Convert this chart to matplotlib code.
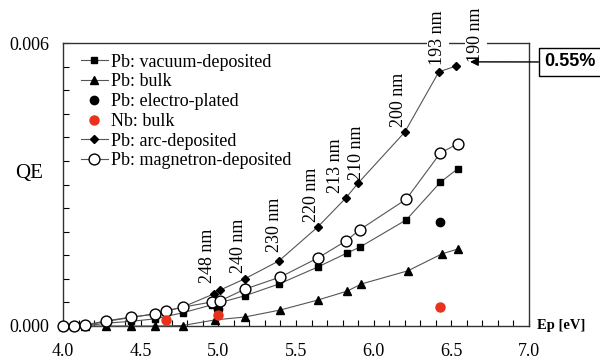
import matplotlib
matplotlib.use("Agg")
import matplotlib.pyplot as plt
from matplotlib.ticker import MultipleLocator

plt.rcParams['font.family'] = ['Liberation Serif', 'DejaVu Serif']

# Photon energy (eV) and quantum efficiency for each cathode type
ep_vacuum = [4.00, 4.07, 4.14, 4.28, 4.44, 4.59, 4.77, 4.96, 5.17, 5.39, 5.64, 5.83, 5.91, 6.21, 6.43, 6.54]
qe_vacuum = [0.0, 0.0, 0.0, 0.00006, 0.00010, 0.00015, 0.00028, 0.00045, 0.00064, 0.00089, 0.00125, 0.00155, 0.00167, 0.00225, 0.00305, 0.00333]

ep_bulk = [4.00, 4.07, 4.14, 4.28, 4.44, 4.59, 4.77, 4.98, 5.17, 5.40, 5.64, 5.83, 5.92, 6.22, 6.44, 6.54]
qe_bulk = [0.0, 0.0, 0.0, 0.0, 0.0, 0.0, 0.00001, 0.00013, 0.00019, 0.00034, 0.00055, 0.00074, 0.00089, 0.00117, 0.00153, 0.00163]

ep_electro = [5.00, 6.43]
qe_electro = [0.00036, 0.00220]

ep_nb = [4.66, 5.00, 6.43]
qe_nb = [0.00013, 0.00024, 0.00040]

ep_arc = [4.00, 4.07, 4.14, 4.28, 4.44, 4.59, 4.77, 4.97, 5.01, 5.17, 5.39, 5.64, 5.82, 5.90, 6.20, 6.42, 6.53]
qe_arc = [0.0, 0.0, 0.00001, 0.00010, 0.00018, 0.00026, 0.00040, 0.00068, 0.00076, 0.00100, 0.00138, 0.00210, 0.00271, 0.00303, 0.00411, 0.00539, 0.00551]

ep_magnetron = [4.00, 4.07, 4.14, 4.28, 4.44, 4.59, 4.66, 4.77, 4.96, 5.01, 5.17, 5.40, 5.64, 5.82, 5.91, 6.21, 6.43, 6.54]
qe_magnetron = [0.0, 0.0, 0.00002, 0.00011, 0.00019, 0.00025, 0.00032, 0.00040, 0.00051, 0.00053, 0.00078, 0.00104, 0.00144, 0.00180, 0.00204, 0.00269, 0.00367, 0.00386]

# Laser wavelengths marked on the arc-deposited curve
wl_labels = ["248 nm", "240 nm", "230 nm", "220 nm", "213 nm", "210 nm", "200 nm", "193 nm", "190 nm"]
wl_ep = [5.01, 5.17, 5.39, 5.64, 5.82, 5.90, 6.20, 6.42, 6.53]
wl_qe = [0.00076, 0.00100, 0.00138, 0.00210, 0.00271, 0.00303, 0.00411, 0.00539, 0.00551]
# label offsets from each point, in pixels
wl_dx = [-12, -6, -4, -6, -10, -2, -6, -1, 20]
wl_dy = [7, 6, 9, 5, 5, 3, 5, 7, 4]

peak_label = "0.55%"
peak_qe = 0.0056

fig = plt.figure(figsize=(6.0, 3.62), dpi=100)
ax = fig.add_axes([63/600, 1-326/362, (529-63)/600, (326-43)/362])

line_kw = dict(color='#555555', lw=0.8, mec='black', mfc='black', clip_on=False)
ax.plot(ep_vacuum, qe_vacuum, marker='s', ms=4.5, label='Pb: vacuum-deposited', zorder=4, **line_kw)
ax.plot(ep_bulk, qe_bulk, marker='^', ms=5.5, label='Pb: bulk', zorder=4, **line_kw)
ax.plot(ep_electro, qe_electro, ls='none', marker='o', ms=6, color='black',
        label='Pb: electro-plated', zorder=5, clip_on=False)
ax.plot(ep_nb, qe_nb, ls='none', marker='o', ms=6.5, color='#e8321e', mec='#e8321e',
        label='Nb: bulk', zorder=6, clip_on=False)
ax.plot(ep_arc, qe_arc, marker='D', ms=4.5, label='Pb: arc-deposited', zorder=4, **line_kw)
ax.plot(ep_magnetron, qe_magnetron, marker='o', ms=7.8, color='#555555', lw=0.8,
        mec='black', mfc='white', mew=1.0, label='Pb: magnetron-deposited', zorder=5, clip_on=False)

ax.set_xlim(4.0, 7.0)
ax.set_ylim(0.0, 0.006)

ax.set_xticks([4.0, 4.5, 5.0, 5.5, 6.0, 6.5, 7.0])
ax.set_xticklabels(["4.0", "4.5", "5.0", "5.5", "6.0", "6.5", "7.0"])
ax.xaxis.set_minor_locator(MultipleLocator(0.1))
ax.set_yticks([0.0, 0.006])
ax.set_yticklabels(["0.000", "0.006"])
ax.yaxis.set_minor_locator(MultipleLocator(0.0005))
ax.tick_params(axis='x', which='both', direction='in', length=4, width=0.8, labelsize=13, pad=12, top=False)
ax.tick_params(axis='y', which='both', direction='in', length=4, width=0.8, labelsize=13, pad=10, right=False)
for sp in ax.spines.values():
    sp.set_linewidth(1.0)
    sp.set_color('#333333')

fig.text(15/600, 1-173/362, "QE", fontsize=15, ha='left', va='center')
fig.text(537/600, 1-326/362, "Ep [eV]", fontsize=10.5, fontweight='bold', ha='left', va='center')

for lab, x, y, dx, dy in zip(wl_labels, wl_ep, wl_qe, wl_dx, wl_dy):
    bb = None
    if lab in ("193 nm", "190 nm"):
        bb = dict(boxstyle='square,pad=0.15', fc='white', ec='none')
    ax.annotate(lab, xy=(x, y), xytext=(dx, dy), textcoords='offset pixels', rotation=90,
                ha='center', va='bottom', fontsize=13, bbox=bb, zorder=7,
                annotation_clip=False)

ax.annotate(peak_label, xy=(6.62, peak_qe), xytext=(570/600, 1-62/362), textcoords='figure fraction',
            ha='center', va='center', fontsize=13, fontweight='bold', family='Liberation Sans',
            bbox=dict(boxstyle='square,pad=0.3', fc='white', ec='black', lw=1.0),
            arrowprops=dict(arrowstyle='-|>', color='black', lw=1.0, mutation_scale=12,
                            shrinkA=0, shrinkB=0),
            annotation_clip=False, zorder=8)

leg = ax.legend(loc='upper left', bbox_to_anchor=(0.038, 0.962), frameon=False, fontsize=13,
                handlelength=1.5, handletextpad=0.2, labelspacing=0.15, borderpad=0, borderaxespad=0)

fig.savefig("out.png", dpi=100)
